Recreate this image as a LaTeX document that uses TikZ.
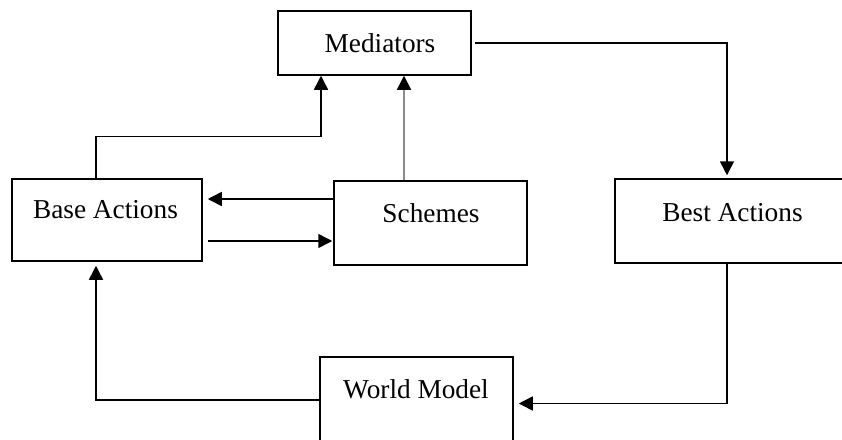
\documentclass[tikz,border=0pt]{standalone}
\usepackage{fontspec}
\setmainfont{Liberation Serif}
\usetikzlibrary{arrows.meta}
\tikzset{
  boxnode/.style={draw=black, line width=1.5pt, fill=white, inner sep=0pt},
  lbl/.style={font=\fontsize{27.3}{30}\selectfont, inner sep=0pt, anchor=base},
  conn/.style={draw=black, line width=1.5pt},
  arr/.style={conn, -{Triangle[length=14pt,width=14pt]}},
  grayarr/.style={draw=black!45, line width=1.7pt, -{Triangle[length=14pt,width=14pt,color=black]}}
}
\begin{document}
\begin{tikzpicture}[x=1pt,y=-1pt]
\useasboundingbox (0,0) rectangle (842,439);
\clip (0,0) rectangle (842,439);
\fill[white] (0,0) rectangle (842,439);
% boxes
\node[boxnode, minimum width=193pt, minimum height=64pt] (med) at (374.5,43) {};
\node[boxnode, minimum width=190pt, minimum height=82pt] (base) at (107,220) {};
\node[boxnode, minimum width=193pt, minimum height=84pt] (sch) at (430.5,223) {};
\node[boxnode, minimum width=245pt, minimum height=84pt] (best) at (737.5,221) {};
\node[boxnode, minimum width=193pt, minimum height=93pt] (wm) at (416.5,403.5) {};
% labels
\node[lbl] (tmed) at (380,52) {Mediators};
\node[lbl] (tbase) at (105.5,218) {Base Actions};
\node[lbl] (tsch) at (431,222) {Schemes};
\node[lbl] (tbest) at (732.5,221) {Best Actions};
\node[lbl] (twm) at (416,398) {World Model};
% connectors
\draw[arr] ([xshift=-11pt]base.north) -- ++(0,-42) -| ([xshift=-53.5pt]med.south);
\draw[grayarr] ([xshift=-26.5pt]sch.north) -- ([xshift=-26.5pt]sch.north |- med.south);
\draw[arr, shorten <=3pt, shorten >=3pt] (med.east) -| ([xshift=-10.5pt]best.north);
\draw[arr, shorten >=5pt] ([yshift=24pt]sch.west) -- ([yshift=24pt]sch.west -| base.east);
\draw[arr, shorten <=5pt, shorten >=1pt] ([yshift=-21pt]base.east) -- ([yshift=-21pt]base.east -| sch.west);
\draw[arr, shorten >=5pt] ([xshift=-10.5pt]best.south) |- (wm.east);
\draw[arr, shorten >=4pt] ([yshift=3.5pt]wm.west) -| ([xshift=-11pt]base.south);
\end{tikzpicture}
\end{document}
